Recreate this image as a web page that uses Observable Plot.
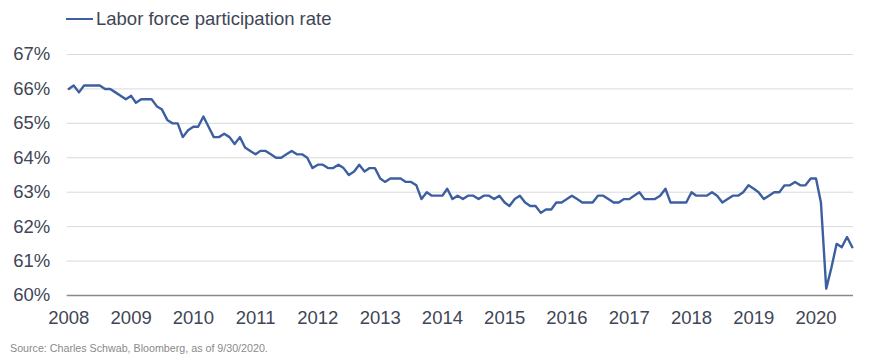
<!DOCTYPE html>
<html>
<head>
<meta charset="utf-8">
<script src="https://cdn.jsdelivr.net/npm/d3@7"></script>
<script src="https://cdn.jsdelivr.net/npm/@observablehq/plot@0.6"></script>
<style>
  html, body { margin: 0; padding: 0; background: #fff; }
  #wrap { position: relative; width: 869px; height: 361px; overflow: hidden; font-family: "Liberation Sans", Arial, sans-serif; }
  #legend { position: absolute; left: 66px; top: 7px; height: 24px; display: flex; align-items: center; font-size: 18.5px; color: #404656; white-space: nowrap; }
  #legend .sw { display: inline-block; width: 27px; height: 2.5px; background: #3d5fa0; margin-right: 3px; }
  #source { position: absolute; left: 10px; top: 342px; font-size: 10.7px; color: #8a8a8a; white-space: nowrap; }
  #chart { position: absolute; left: 0; top: 0; }
</style>
</head>
<body>
<div id="wrap">
  <div id="chart"></div>
  <div id="legend"><span class="sw"></span><span id="legendText"></span></div>
  <div id="source"></div>
</div>
<script>
// Series: monthly labor force participation rate (%), Feb 2008 – Sep 2020
const startYear = 2008;
const startMonth = 1; // February (0-based)
const values2008 = [66.0, 66.1, 65.9, 66.1, 66.1, 66.1, 66.1, 66.0, 66.0, 65.9, 65.8];
const values2009 = [65.7, 65.8, 65.6, 65.7, 65.7, 65.7, 65.5, 65.4, 65.1, 65.0, 65.0, 64.6];
const values2010 = [64.8, 64.9, 64.9, 65.2, 64.9, 64.6, 64.6, 64.7, 64.6, 64.4, 64.6, 64.3];
const values2011 = [64.2, 64.1, 64.2, 64.2, 64.1, 64.0, 64.0, 64.1, 64.2, 64.1, 64.1, 64.0];
const values2012 = [63.7, 63.8, 63.8, 63.7, 63.7, 63.8, 63.7, 63.5, 63.6, 63.8, 63.6, 63.7];
const values2013 = [63.7, 63.4, 63.3, 63.4, 63.4, 63.4, 63.3, 63.3, 63.2, 62.8, 63.0, 62.9];
const values2014 = [62.9, 62.9, 63.1, 62.8, 62.9, 62.8, 62.9, 62.9, 62.8, 62.9, 62.9, 62.8];
const values2015 = [62.9, 62.7, 62.6, 62.8, 62.9, 62.7, 62.6, 62.6, 62.4, 62.5, 62.5, 62.7];
const values2016 = [62.7, 62.8, 62.9, 62.8, 62.7, 62.7, 62.7, 62.9, 62.9, 62.8, 62.7, 62.7];
const values2017 = [62.8, 62.8, 62.9, 63.0, 62.8, 62.8, 62.8, 62.9, 63.1, 62.7, 62.7, 62.7];
const values2018 = [62.7, 63.0, 62.9, 62.9, 62.9, 63.0, 62.9, 62.7, 62.8, 62.9, 62.9, 63.0];
const values2019 = [63.2, 63.1, 63.0, 62.8, 62.9, 63.0, 63.0, 63.2, 63.2, 63.3, 63.2, 63.2];
const values2020 = [63.4, 63.4, 62.7, 60.2, 60.8, 61.5, 61.4, 61.7, 61.4];

const yTicks = [60, 61, 62, 63, 64, 65, 66, 67];
const xTickYears = [2008, 2009, 2010, 2011, 2012, 2013, 2014, 2015, 2016, 2017, 2018, 2019, 2020];
const seriesName = "Labor force participation rate";
const sourceText = "Source: Charles Schwab, Bloomberg, as of 9/30/2020.";

const allValues = [].concat(values2008, values2009, values2010, values2011, values2012,
  values2013, values2014, values2015, values2016, values2017, values2018, values2019, values2020);
const data = allValues.map((v, i) => ({
  date: new Date(Date.UTC(startYear, startMonth + i, 1)),
  value: v
}));
// Category-style axis: labels sit at the first category (February) of each year
const xTicks = xTickYears.map(y => new Date(Date.UTC(y, startMonth, 1)));

const lineColor = "#3d5fa0";
const textColor = "#404656";

const chart = Plot.plot({
  width: 869,
  height: 361,
  marginLeft: 66.7,
  marginRight: 16,
  marginTop: 54,
  marginBottom: 66,
  style: { fontFamily: "Liberation Sans, Arial, sans-serif", fontSize: "18.5px", color: textColor, background: "transparent" },
  x: {
    type: "utc",
    domain: [new Date(Date.UTC(2008, 0, 23)), new Date(Date.UTC(2020, 8, 8))],
    ticks: xTicks,
    tickFormat: d3.utcFormat("%Y"),
    tickSize: 0,
    tickPadding: 15,
    label: null
  },
  y: {
    domain: [60, 67],
    ticks: yTicks,
    tickFormat: d => `${d}%`,
    tickSize: 0,
    tickPadding: 17,
    label: null
  },
  marks: [
    Plot.ruleY(yTicks.filter(t => t > 60), { stroke: "#d9d9d9", strokeWidth: 1 }),
    Plot.ruleY([60], { stroke: "#8a8a8a", strokeWidth: 1.6 }),
    Plot.lineY(data, { x: "date", y: "value", stroke: lineColor, strokeWidth: 2.4, strokeLinejoin: "round" })
  ]
});
document.getElementById("chart").appendChild(chart);
document.getElementById("legendText").textContent = seriesName;
document.getElementById("source").textContent = sourceText;
</script>
</body>
</html>
